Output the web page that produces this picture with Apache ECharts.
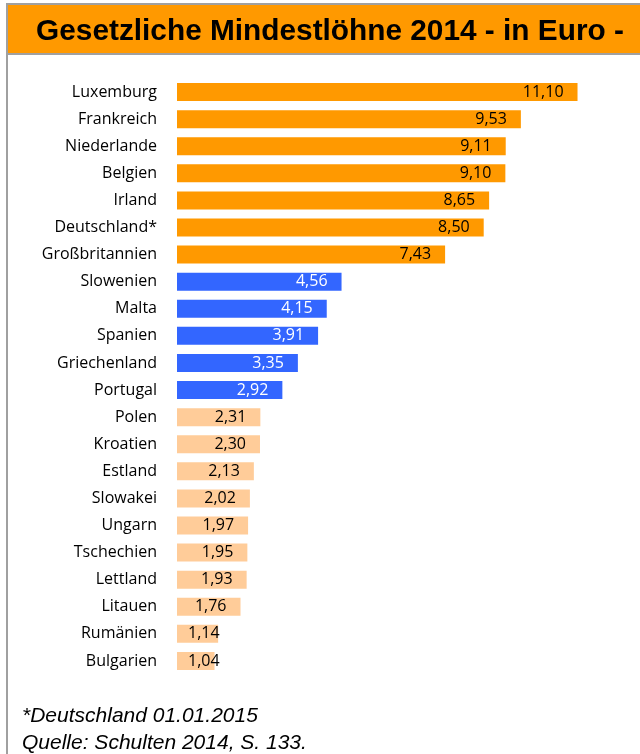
<!DOCTYPE html>
<html>
<head>
<meta charset="utf-8">
<script src="https://cdn.jsdelivr.net/npm/echarts@6/dist/echarts.min.js"></script>
<style>
html,body{margin:0;padding:0;background:#fff;}
#chart{width:640px;height:754px;}
</style>
</head>
<body>
<div id="chart"></div>
<script>
const titleText = 'Gesetzliche Mindestlöhne 2014 - in Euro -';
const countries = ['Luxemburg','Frankreich','Niederlande','Belgien','Irland','Deutschland*','Großbritannien',
  'Slowenien','Malta','Spanien','Griechenland','Portugal',
  'Polen','Kroatien','Estland','Slowakei','Ungarn','Tschechien','Lettland','Litauen','Rumänien','Bulgarien'];
const wages = [11.10,9.53,9.11,9.10,8.65,8.50,7.43,
  4.56,4.15,3.91,3.35,2.92,
  2.31,2.30,2.13,2.02,1.97,1.95,1.93,1.76,1.14,1.04];
const groups = ['high','high','high','high','high','high','high',
  'mid','mid','mid','mid','mid',
  'low','low','low','low','low','low','low','low','low','low'];
const footnotes = ['*Deutschland 01.01.2015','Quelle: Schulten 2014, S. 133.'];

const groupColor = {high:'#FF9900', mid:'#3366FF', low:'#FFCC99'};
const labelColor = {high:'#000000', mid:'#FFFFFF', low:'#000000'};

const chart = echarts.init(document.getElementById('chart'));
const seriesData = wages.map((v,i)=>({
  value: v,
  itemStyle:{color: groupColor[groups[i]]},
  label:{
    color: labelColor[groups[i]],
    position: v < 1.5 ? 'insideLeft' : 'insideRight',
    distance: v < 1.5 ? 11 : 14
  }
}));

chart.setOption({
  animation:false,
  backgroundColor:'#fff',
  title:{
    text: titleText,
    left: 325, top: 12, textAlign:'center',
    textStyle:{fontFamily:'Liberation Sans, Arial', fontWeight:'bold', fontSize:29.8, color:'#000'}
  },
  graphic:[
    {type:'rect', z:-1, shape:{x:7,y:4,width:640,height:50}, style:{fill:'#FF9900', stroke:null}},
    {type:'line', shape:{x1:6,y1:4,x2:640,y2:4}, style:{stroke:'#A0A0A0', lineWidth:2}},
    {type:'line', shape:{x1:7,y1:54,x2:640,y2:54}, style:{stroke:'#A0A0A0', lineWidth:2}},
    {type:'line', shape:{x1:7,y1:3,x2:7,y2:754}, style:{stroke:'#A0A0A0', lineWidth:2}},
    {type:'text', left:22, top:706, style:{text: footnotes[0], font:'italic 21px "Liberation Sans", Arial', fill:'#000'}},
    {type:'text', left:22, top:733, style:{text: footnotes[1], font:'italic 21px "Liberation Sans", Arial', fill:'#000'}}
  ],
  grid:{left:177, top:78.5, width:433, height:596, containLabel:false},
  xAxis:{type:'value', min:0, max:12, show:false},
  yAxis:{
    type:'category', data: countries, inverse:true,
    axisLine:{show:false}, axisTick:{show:false}, splitLine:{show:false},
    axisLabel:{margin:20, fontFamily:'Open Sans', fontSize:16, color:'#000'}
  },
  series:[{
    type:'bar', data: seriesData, barWidth:18,
    label:{show:true, fontFamily:'Open Sans', fontSize:16,
      formatter: p => p.value.toFixed(2).replace('.', ',')}
  }]
});
</script>
</body>
</html>
